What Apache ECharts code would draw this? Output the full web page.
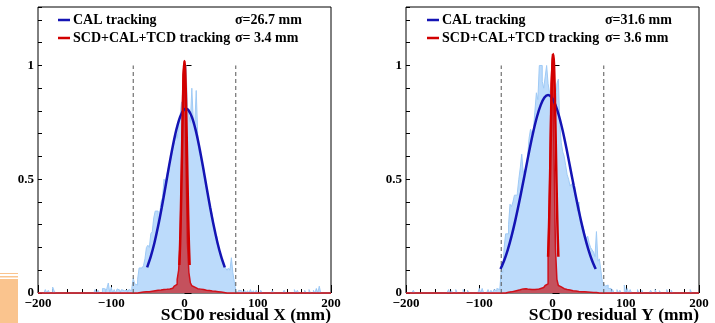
<!DOCTYPE html>
<html><head><meta charset="utf-8">
<script src="https://cdn.jsdelivr.net/npm/echarts@6/dist/echarts.min.js"></script>
<style>html,body{margin:0;padding:0;background:#fff}#c{width:715px;height:323px}</style>
</head><body><div id="c"></div>
<script>
// ---------- data ----------
const binWidth = 2;          // mm
const denseStart = -80;      // left edge of first dense bin
const xTicks = [-200, -100, 0, 100, 200];
const yTicks = [0, 0.5, 1];
const cutLines = [-70, 70];

// Left panel (residual X), dense bins -80..80 (centres -79..79)
const leftCalDense = [
  0.012, 0, 0.015, 0.01, 0.02, 0.065, 0.04, 0.035, 0.06, 0.11,
  0.11, 0.105, 0.12, 0.15, 0.2, 0.21, 0.2, 0.26, 0.27, 0.33,
  0.36, 0.36, 0.29, 0.34, 0.40, 0.42, 0.50, 0.49, 0.52, 0.55,
  0.58, 0.6, 0.64, 0.66, 0.70, 0.68, 0.74, 0.78, 0.84, 0.72,
  0.86, 1.0, 0.82, 0.78, 0.75, 0.90, 0.76, 0.74, 0.89, 0.70,
  0.62, 0.60, 0.56, 0.55, 0.50, 0.46, 0.43, 0.40, 0.37, 0.34,
  0.30, 0.26, 0.25, 0.21, 0.18, 0.16, 0.13, 0.12, 0.11, 0.10,
  0.11, 0.10, 0.155, 0.09, 0.05, 0.01, 0, 0.012, 0.01, 0.015
];
const leftCalSparse = [
  [-190,0.015],[-186,0.012],[-180,0.026],[-178,0.01],[-122,0.015],[-118,0.012],
  [-112,0.02],[-110,0.018],[-106,0.02],[-104,0.044],[-100,0.025],[-96,0.015],
  [-92,0.018],[-90,0.012],[-86,0.015],[-84,0.01],[-82,0.012],
  [82,0.012],[86,0.01],[90,0.015],[94,0.01],[98,0.012],[104,0.012],[120,0.01],
  [136,0.012],[150,0.015],[154,0.012],[164,0.012],[170,0.015],[176,0.012],[180,0.02],[184,0.03]
];
const leftFullDense = [
  0, 0, 0, 0, 0, 0, 0, 0, 0.002, 0.002,
  0.003, 0.004, 0.004, 0.005, 0.006, 0.006, 0.007, 0.008, 0.009, 0.01,
  0.011, 0.012, 0.013, 0.013, 0.014, 0.015, 0.016, 0.016, 0.018, 0.018,
  0.02, 0.021, 0.024, 0.03, 0.038, 0.06, 0.10, 0.22, 0.55, 0.96,
  1.02, 0.58, 0.22, 0.09, 0.045, 0.032, 0.026, 0.022, 0.019, 0.02,
  0.017, 0.016, 0.015, 0.014, 0.012, 0.013, 0.011, 0.01, 0.009, 0.008,
  0.008, 0.006, 0.006, 0.005, 0.004, 0.003, 0.002, 0, 0, 0,
  0, 0, 0, 0, 0, 0, 0, 0, 0, 0
];
const leftCalFitX = [-51,-46,-41,-36,-31,-26,-21,-16,-11,-6,-1,2,5,10,15,20,25,30,35,40,45,50,55];
const leftCalFitY = [0.113,0.161,0.221,0.294,0.377,0.467,0.559,0.645,0.719,0.774,0.805,0.81,0.805,0.774,0.719,0.645,0.559,0.467,0.377,0.294,0.221,0.161,0.113];
const leftFullFitX = [-7,-6,-5,-4,-3,-2,-1,0,1,2,3,4,5,6,7];
const leftFullFitY = [0.123,0.215,0.346,0.511,0.691,0.858,0.977,1.02,0.977,0.858,0.691,0.511,0.346,0.215,0.123];

// Right panel (residual Y)
const rightCalDense = [
  0.015, 0.01, 0.02, 0.015, 0.01, 0.10, 0.09, 0.20, 0.26, 0.26,
  0.30, 0.39, 0.38, 0.40, 0.43, 0.43, 0.44, 0.50, 0.55, 0.61,
  0.53, 0.54, 0.55, 0.60, 0.68, 0.72, 0.70, 0.72, 0.80, 0.88,
  0.85, 1.0, 1.0, 0.93, 0.90, 0.95, 1.0, 0.92, 0.88, 0.82,
  0.78, 0.80, 0.83, 0.92, 0.94, 0.74, 0.66, 0.62, 0.60, 0.56,
  0.52, 0.50, 0.47, 0.48, 0.46, 0.47, 0.42, 0.36, 0.40, 0.33,
  0.30, 0.29, 0.26, 0.24, 0.25, 0.22, 0.20, 0.19, 0.18, 0.16,
  0.27, 0.14, 0.15, 0.10, 0.05, 0.04, 0.03, 0.035, 0.02, 0.02
];
const rightCalSparse = [
  [-190,0.012],[-142,0.015],[-138,0.01],[-132,0.015],[-122,0.015],[-116,0.012],
  [-100,0.02],[-96,0.02],[-88,0.015],[-84,0.012],
  [82,0.015],[88,0.015],[92,0.012],[98,0.035],[102,0.02],[106,0.015],[116,0.015],
  [122,0.012],[134,0.012],[140,0.015],[146,0.01],[156,0.015],[162,0.012],[188,0.015]
];
const rightFullDense = [
  0, 0, 0, 0, 0, 0, 0, 0, 0.002, 0.003,
  0.004, 0.005, 0.006, 0.008, 0.01, 0.011, 0.013, 0.014, 0.016, 0.018,
  0.019, 0.019, 0.018, 0.016, 0.016, 0.015, 0.014, 0.015, 0.016, 0.016,
  0.018, 0.02, 0.021, 0.024, 0.027, 0.033, 0.04, 0.16, 0.45, 0.92,
  1.05, 0.62, 0.2, 0.06, 0.033, 0.027, 0.022, 0.019, 0.017, 0.015,
  0.014, 0.013, 0.012, 0.01, 0.01, 0.009, 0.008, 0.007, 0.006, 0.006,
  0.005, 0.005, 0.004, 0.004, 0.003, 0.003, 0.002, 0.002, 0.002, 0.002,
  0, 0, 0, 0, 0, 0, 0, 0, 0, 0
];
const rightCalFitX = [-71,-66,-61,-56,-51,-46,-41,-36,-31,-26,-21,-16,-11,-6,-1,4,9,14,19,24,29,34,39,44,49,54,59];
const rightCalFitY = [0.105,0.143,0.191,0.249,0.316,0.391,0.471,0.554,0.636,0.712,0.777,0.827,0.859,0.87,0.859,0.827,0.777,0.712,0.636,0.554,0.471,0.391,0.316,0.249,0.191,0.143,0.105];
const rightFullFitX = [-6,-5,-4,-3,-2,-1,0,1,2,3,4,5,6,7,8];
const rightFullFitY = [0.159,0.262,0.40,0.566,0.742,0.90,1.01,1.05,1.01,0.90,0.742,0.566,0.40,0.262,0.159];

const legendNames = ['CAL tracking', 'SCD+CAL+TCD tracking'];
const leftSigmas = ['σ=26.7 mm', 'σ= 3.4 mm'];
const rightSigmas = ['σ=31.6 mm', 'σ= 3.6 mm'];
const axisTitles = ['SCD0 residual X (mm)', 'SCD0 residual Y (mm)'];

// ---------- build ----------
function buildSteps(dense, sparse) {
  const vals = new Map();
  dense.forEach((v, i) => vals.set(denseStart + i * binWidth, v));
  sparse.forEach(([e, v]) => vals.set(e, v));
  const pts = [];
  for (let e = -200; e < 200; e += binWidth) pts.push([e, vals.get(e) || 0]);
  pts.push([200, pts[pts.length - 1][1]]);
  return pts;
}
const zip = (xs, ys) => xs.map((x, i) => [x, ys[i]]);

const FONT = '"Liberation Serif", "DejaVu Serif", serif';
const C_BLUE = '#1414b4', C_RED = '#d20000';
const C_HFILL = '#bcdbfb', C_HLINE = '#9fcaf5';
const C_RFILL = '#c4515d', C_RLINE = '#d0101a';

const grids = [
  { left: 38, top: 7, width: 293, height: 286 },
  { left: 406, top: 7, width: 293, height: 286 }
];
const YMAX = 1.257;

const xAxes = [], yAxes = [], series = [];
const panels = [
  { cal: buildSteps(leftCalDense, leftCalSparse), full: buildSteps(leftFullDense, []),
    calFit: zip(leftCalFitX, leftCalFitY), fullFit: zip(leftFullFitX, leftFullFitY) },
  { cal: buildSteps(rightCalDense, rightCalSparse), full: buildSteps(rightFullDense, []),
    calFit: zip(rightCalFitX, rightCalFitY), fullFit: zip(rightFullFitX, rightFullFitY) }
];
panels.forEach((p, gi) => {
  xAxes.push({
    type: 'value', gridIndex: gi, position: 'bottom', min: xTicks[0], max: xTicks[xTicks.length - 1],
    interval: xTicks[1] - xTicks[0],
    axisLine: { show: false },
    axisTick: { show: true, inside: true, length: 8, lineStyle: { color: '#000', width: 1 } },
    minorTick: { show: true, splitNumber: 5, length: 4, lineStyle: { color: '#000', width: 1 } },
    splitLine: { show: false },
    axisLabel: { margin: 4, color: '#000', fontFamily: FONT, fontWeight: 'bold', fontSize: 13,
      formatter: v => (v < 0 ? '\u2212' + Math.abs(v) : String(v)) }
  });
  yAxes.push({
    type: 'value', gridIndex: gi, position: 'left', min: 0, max: YMAX, interval: yTicks[1] - yTicks[0],
    axisLine: { show: false },
    axisTick: { show: true, inside: true, length: 7, lineStyle: { color: '#000', width: 1 } },
    splitLine: { show: false },
    axisLabel: { margin: 4, color: '#000', fontFamily: FONT, fontWeight: 'bold', fontSize: 13,
      showMaxLabel: false, formatter: v => (yTicks.indexOf(v) >= 0 ? String(v) : '') }
  });
  yAxes.push({
    type: 'value', gridIndex: gi, position: 'left', offset: 0, min: 0, max: YMAX, interval: 0.1,
    axisLine: { show: false },
    axisTick: { show: true, inside: true, length: 4, lineStyle: { color: '#000', width: 1 } },
    splitLine: { show: false }, axisLabel: { show: false }
  });
  const yi = gi * 2;
  const base = { type: 'line', xAxisIndex: gi, yAxisIndex: yi, symbol: 'none', showSymbol: false, animation: false, silent: true };
  series.push(Object.assign({}, base, { data: p.cal, step: 'end',
    lineStyle: { color: C_HLINE, width: 1 }, areaStyle: { color: C_HFILL, opacity: 1 }, z: 2 }));
  series.push(Object.assign({}, base, { data: p.full, step: 'end', clip: false,
    lineStyle: { color: C_RLINE, width: 1.5 }, areaStyle: { color: C_RFILL, opacity: 1 }, z: 3 }));
  cutLines.forEach(c => series.push(Object.assign({}, base, { data: [[c, 0], [c, 1]],
    lineStyle: { color: '#555', width: 1, type: [4, 3] }, z: 4 })));
  series.push(Object.assign({}, base, { data: p.calFit, smooth: 0.3,
    lineStyle: { color: C_BLUE, width: 2.5 }, z: 5 }));
  series.push(Object.assign({}, base, { data: p.fullFit, smooth: 0.3,
    lineStyle: { color: C_RED, width: 2.5 }, z: 6 }));
});

const txt = (x, y, text, size, align) => ({ type: 'text', x, y, z: 100, silent: true,
  style: { text, font: 'bold ' + size + 'px ' + FONT, fill: '#000', align: align || 'left', verticalAlign: 'middle' } });
const seg = (x1, x2, y, color) => ({ type: 'line', z: 100, silent: true,
  shape: { x1, y1: y, x2, y2: y }, style: { stroke: color, lineWidth: 2.5 } });

const graphic = [
  // decoration strip at bottom-left of the reference image
  { type: 'rect', shape: { x: 0, y: 273, width: 18, height: 1 }, style: { fill: '#fac48e' } },
  { type: 'rect', shape: { x: 0, y: 276, width: 18, height: 1.5 }, style: { fill: '#fac48e' } },
  { type: 'rect', shape: { x: 0, y: 279, width: 18, height: 44 }, style: { fill: '#fac48e' } }
];
const legendOffsets = [{ lx: 58, tx: 73, sx: 235, sig: leftSigmas }, { lx: 427, tx: 442, sx: 605, sig: rightSigmas }];
legendOffsets.forEach((L, gi) => {
  graphic.push(seg(L.lx, L.lx + 12, 20, C_BLUE));
  graphic.push(seg(L.lx, L.lx + 12, 38, C_RED));
  graphic.push(txt(L.tx, 20, legendNames[0], 14));
  graphic.push(txt(L.tx, 38, legendNames[1], 14));
  graphic.push(txt(L.sx, 20, L.sig[0], 14));
  graphic.push(txt(L.sx, 38, L.sig[1], 14));
  const g = grids[gi];
  graphic.push(txt(g.left + g.width, 315, axisTitles[gi], 17.5, 'right'));
});

const chart = echarts.init(document.getElementById('c'), null, { renderer: 'canvas' });
chart.setOption({
  animation: false,
  backgroundColor: '#fff',
  grid: grids.map(g => Object.assign({ show: true, borderColor: '#000', borderWidth: 1, backgroundColor: 'transparent' }, g)),
  xAxis: xAxes,
  yAxis: yAxes,
  series,
  graphic
});
</script></body></html>
